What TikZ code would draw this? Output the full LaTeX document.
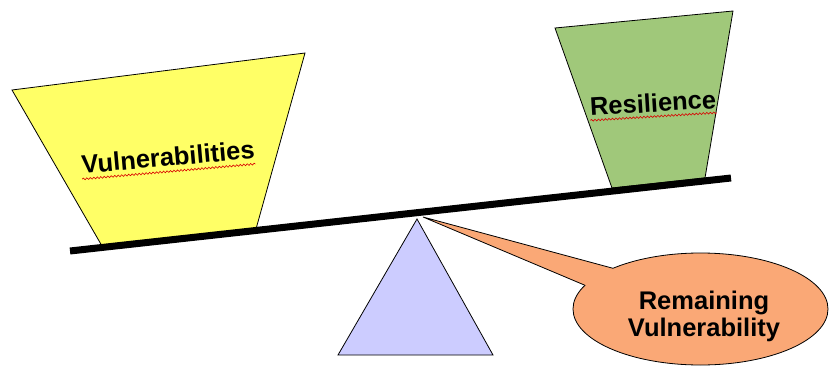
\documentclass[tikz,border=0pt]{standalone}
\usepackage{fontspec}
\setmainfont{Liberation Sans}
\usetikzlibrary{decorations.pathmorphing, calc}
\definecolor{vulnYellow}{RGB}{255,255,102}
\definecolor{resGreen}{RGB}{160,200,122}
\definecolor{pivotBlue}{RGB}{204,204,255}
\definecolor{calloutOrange}{RGB}{250,168,118}

\begin{document}
\begin{tikzpicture}[x=1pt, y=-1pt,
    weight/.style={draw=black, line width=0.8pt, line join=miter},
    word/.style={font=\bfseries\fontsize{25.5}{27}\selectfont, inner sep=0pt, align=center},
    squiggle/.style={red!85!black, line width=0.6pt, decorate, decoration={snake, amplitude=0.9pt, segment length=3.5pt}}]
    \useasboundingbox (0,0) rectangle (830,369);

    % pivot under the beam
    \draw [weight, fill=pivotBlue] (417,219) -- (493,355) -- (338,355) -- cycle;

    % left weight
    \draw [weight, fill=vulnYellow] (12,90) -- (305,53) -- (256,229) -- (102,246) -- cycle;
    \node [word, rotate=5] (vulnLabel) at (168,157) {Vulnerabilities};
    \draw [squiggle] ([shift={(0,5)}]vulnLabel.south west) -- ([shift={(0,5)}]vulnLabel.south east);

    % right weight
    \draw [weight, fill=resGreen] (555,28) -- (733,11) -- (705,178) -- (612,188) -- cycle;
    \node [word, rotate=3.5] (resLabel) at (653,103) {Resilience};
    \draw [squiggle] ([shift={(0,4)}]resLabel.south west) -- ([shift={(0,4)}]resLabel.south east);

    % callout
    \coordinate (tip) at (423,217);
    \coordinate (joinUp) at (613,268.3);
    \coordinate (joinLow) at (585,285.3);
    \draw [weight, fill=calloutOrange] (700.5,309) ellipse [x radius=127.5, y radius=56];
    \fill [calloutOrange] (tip) -- (joinUp) -- (620,286) -- (joinLow) -- cycle;
    \draw [weight] (joinUp) -- (tip) -- (joinLow);
    \node [word] (remainLabel) at (704,316) {Remaining\\Vulnerability};

    % beam
    \draw [line width=7pt] (70,251) -- (731,178);
\end{tikzpicture}
\end{document}
